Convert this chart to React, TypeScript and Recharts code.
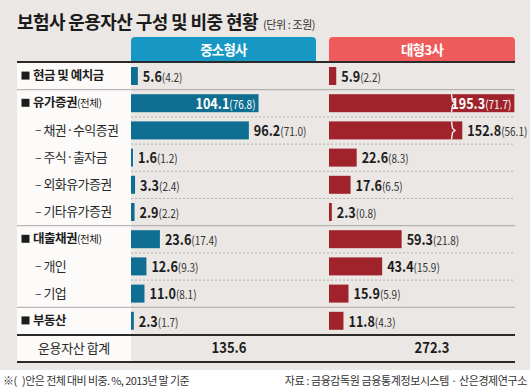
import { BarChart, Bar, XAxis, YAxis, LabelList } from 'recharts'

// 행 이름 / 종류 (main: ■ 항목, sub: – 하위 항목)
const rowNames = ['현금 및 예치금', '유가증권', '채권·수익증권', '주식·출자금', '외화유가증권', '기타유가증권', '대출채권', '개인', '기업', '부동산']
const rowKinds = ['main', 'main', 'sub', 'sub', 'sub', 'sub', 'main', 'sub', 'sub', 'main']
const rowIsWhole = [false, true, false, false, false, false, true, false, false, false]

// 중소형사 (조원, 비중 %)
const smallAmount = [5.6, 104.1, 96.2, 1.6, 3.3, 2.9, 23.6, 12.6, 11.0, 2.3]
const smallShare = [4.2, 76.8, 71.0, 1.2, 2.4, 2.2, 17.4, 9.3, 8.1, 1.7]
// 대형3사
const bigAmount = [5.9, 195.3, 152.8, 22.6, 17.6, 2.3, 59.3, 43.4, 15.9, 11.8]
const bigShare = [2.2, 71.7, 56.1, 8.3, 6.5, 0.8, 21.8, 15.9, 5.9, 4.3]

const totalLabel = '운용자산 합계'
const totals = [135.6, 272.3]
const groups = ['중소형사', '대형3사']

// axis break used on the long red bars: the 100 ~ 144 range is skipped
const BREAK_FROM = 100
const BREAK_TO = 144

const FONT = "'Noto Sans CJK KR', 'Noto Sans', sans-serif"
const TEAL = '#0e6f92'
const TEAL_HEAD = '#1697c4'
const RED = '#a0232b'
const RED_HEAD = '#ef5a5b'
const BG = '#ebe7e4'
const NARROW = 0.87 // numbers in the source use a condensed face

const PX_PER_UNIT = 1.225
const TOP = 62
const ROW_H = 27.2
const CHART_H = ROW_H * rowNames.length
const LEFT = 17
const LABEL_W = 114
const COL1_X = 131
const COL2_X = 329
const COL_W = 186
const RIGHT = 515
const SPILL = 14

const makeRows = (amount: number[], share: number[]) =>
  rowNames.map((name, i) => ({ name, amount: amount[i], share: share[i], kind: rowKinds[i], whole: rowIsWhole[i] }))

const smallRows = makeRows(smallAmount, smallShare)
const bigRows = makeRows(bigAmount, bigShare)

function shownWidth(w: number, v: number) {
  if (v <= BREAK_TO || v <= 0) return w
  return w - (w * (BREAK_TO - BREAK_FROM)) / v
}

function BrokenBar(props: any) {
  const { x, y, width, height, fill, payload } = props
  const v = payload.amount
  const w = shownWidth(width, v)
  const broken = v > BREAK_TO
  const bx = x + (width * BREAK_FROM) / v
  return (
    <g>
      <rect x={x} y={y} width={w} height={height} fill={fill} />
      {broken && (
        <polyline
          points={`${bx},${y} ${bx + 1},${y + height * 0.38} ${bx + 3.5},${y + height * 0.5} ${bx + 1},${y + height * 0.62} ${bx},${y + height}`}
          fill="none"
          stroke="#f3eeee"
          strokeWidth={1.4}
        />
      )}
    </g>
  )
}

function valueLabel(rows: typeof smallRows) {
  const max = Math.max(...rows.map(r => r.amount))
  return (props: any) => {
    const vb = props.viewBox || props
    const x = props.x ?? vb.x
    const y = props.y ?? vb.y
    const width = props.width ?? vb.width
    const height = props.height ?? vb.height
    const r = rows[props.index] ?? rows.find(d => d.amount === props.value)
    if (!r) return null
    const end = x + shownWidth(width, r.amount)
    const inside = r.amount === max
    const tx = inside ? end - 3 : end + 5
    return (
      <text
        transform={`translate(${tx},${y + height / 2}) scale(${NARROW},1)`}
        dy="0.36em"
        textAnchor={inside ? 'end' : 'start'}
        fontFamily={FONT}
      >
        <tspan fontSize={14.5} fontWeight={700} fill={inside ? '#fff' : '#1d1d1d'}>{r.amount.toFixed(1)}</tspan>
        <tspan fontSize={11.5} fill={inside ? '#fff' : '#333'}>({r.share.toFixed(1)})</tspan>
      </text>
    )
  }
}

function RowTick(props: any) {
  const { y, payload } = props
  const r = smallRows.find(d => d.name === payload.value)
  if (!r) return null
  if (r.kind === 'main') {
    return (
      <g>
        <rect x={4.5} y={y - 4} width={8} height={8} fill="#1d1d1d" />
        <text x={16} y={y} dy="0.36em" fontFamily={FONT} fontSize={12.5} fontWeight={700} fill="#1d1d1d" letterSpacing={-0.5} style={{ whiteSpace: 'pre' }}>
          {r.name}
          {r.whole && <tspan fontSize={10.5} fontWeight={400}>(전체)</tspan>}
        </text>
      </g>
    )
  }
  return (
    <g>
      <text x={18} y={y} dy="0.36em" fontFamily={FONT} fontSize={12} fill="#333">–</text>
      <text x={26.5} y={y} dy="0.36em" fontFamily={FONT} fontSize={13} fill="#2a2a2a" letterSpacing={-0.6}>{r.name}</text>
    </g>
  )
}

const boundary = (i: number) => TOP + ROW_H * i
const solidAfter = [1, 6, 9]
const dashedAfter = [2, 3, 4, 5, 7, 8]

function TotalText({ x, value }: { x: number; value: number }) {
  return (
    <text transform={`translate(${x},${boundary(10) + 14}) scale(${NARROW},1)`} dy="0.36em" textAnchor="middle" fontSize={15} fontWeight={700} fill="#1d1d1d">
      {value.toFixed(1)}
    </text>
  )
}

export default function App() {
  return (
    <div style={{ position: 'absolute', left: 0, top: 0, width: 530, height: 387, background: '#fff', fontFamily: FONT, overflow: 'hidden' }}>
      <svg width={530} height={387} style={{ position: 'absolute', left: 0, top: 0 }}>
        <rect x={0} y={0} width={530} height={370} fill={BG} />
        <text x={LEFT} y={29} fontSize={18} fontWeight={700} fill="#1a1a1a" letterSpacing={-0.6}>
          보험사 운용자산 구성 및 비중 현황
          <tspan fontSize={11} fontWeight={400} fill="#333" dx={5} letterSpacing={-0.4}>(단위 : 조원)</tspan>
        </text>
        {/* column heads */}
        <path d={`M${COL1_X},62 V41 Q${COL1_X},37 ${COL1_X + 4},37 H${COL1_X + COL_W - 5} Q${COL1_X + COL_W - 1},37 ${COL1_X + COL_W - 1},41 V62 Z`} fill={TEAL_HEAD} />
        <path d={`M${COL2_X},62 V41 Q${COL2_X},37 ${COL2_X + 4},37 H${RIGHT - 4} Q${RIGHT},37 ${RIGHT},41 V62 Z`} fill={RED_HEAD} />
        <text x={COL1_X + (COL_W - 1) / 2} y={50} dy="0.36em" textAnchor="middle" fontSize={13.5} fontWeight={700} fill="#fff" letterSpacing={-0.8}>{groups[0]}</text>
        <text x={(COL2_X + RIGHT) / 2} y={50} dy="0.36em" textAnchor="middle" fontSize={13.5} fontWeight={700} fill="#fff" letterSpacing={-0.8}>{groups[1]}</text>
        {/* label column */}
        <rect x={LEFT} y={TOP} width={LABEL_W} height={boundary(10) + 27 - TOP} fill="#fcfbfa" />
        {solidAfter.map(i => (
          <line key={'s' + i} x1={LEFT} x2={RIGHT} y1={boundary(i) + 0.5} y2={boundary(i) + 0.5} stroke="#a8a6a4" strokeWidth={1} />
        ))}
        {dashedAfter.map(i => (
          <line key={'d' + i} x1={COL1_X} x2={RIGHT} y1={boundary(i) + 0.5} y2={boundary(i) + 0.5} stroke="#b4b1ae" strokeWidth={1} strokeDasharray="2 2" />
        ))}
        <rect x={LEFT} y={61} width={RIGHT - LEFT} height={2} fill="#2a2a2a" />
        <rect x={LEFT} y={boundary(10)} width={RIGHT - LEFT} height={2} fill="#2a2a2a" />
        <rect x={LEFT} y={boundary(10) + 27} width={RIGHT - LEFT} height={2} fill="#2a2a2a" />
        {/* totals row */}
        <text x={LEFT + LABEL_W / 2} y={boundary(10) + 14} dy="0.36em" textAnchor="middle" fontSize={13} fill="#2a2a2a" letterSpacing={-0.4}>{totalLabel}</text>
        <TotalText x={229} value={totals[0]} />
        <TotalText x={432} value={totals[1]} />
        {/* footer */}
        <text x={3} y={381} dy="0.36em" fontSize={11} fill="#333" letterSpacing={-0.6} style={{ whiteSpace: 'pre' }}>{'※(   )안은 전체 대비 비중. %, 2013년 말 기준'}</text>
        <text x={527} y={381} dy="0.36em" textAnchor="end" fontSize={11} fill="#333" letterSpacing={-0.4} style={{ whiteSpace: 'pre' }}>자료 : 금융감독원 금융통계정보시스템 · 산은경제연구소</text>
      </svg>

      <div style={{ position: 'absolute', left: LEFT, top: TOP }}>
        <BarChart width={LABEL_W + COL_W} height={CHART_H} data={smallRows} layout="vertical" margin={{ top: 0, right: 0, bottom: 0, left: 0 }}>
          <XAxis type="number" hide domain={[0, COL_W / PX_PER_UNIT]} allowDataOverflow />
          <YAxis type="category" dataKey="name" width={LABEL_W} axisLine={false} tickLine={false} tick={<RowTick />} interval={0} />
          <Bar dataKey="amount" fill={TEAL} barSize={18} shape={<BrokenBar />} isAnimationActive={false}>
            <LabelList dataKey="amount" content={valueLabel(smallRows)} />
          </Bar>
        </BarChart>
      </div>

      <div style={{ position: 'absolute', left: COL2_X, top: TOP }}>
        <BarChart width={COL_W + SPILL} height={CHART_H} data={bigRows} layout="vertical" margin={{ top: 0, right: SPILL, bottom: 0, left: 0 }}>
          <XAxis type="number" hide domain={[0, COL_W / PX_PER_UNIT]} allowDataOverflow />
          <YAxis type="category" dataKey="name" hide />
          <Bar dataKey="amount" fill={RED} barSize={18} shape={<BrokenBar />} isAnimationActive={false}>
            <LabelList dataKey="amount" content={valueLabel(bigRows)} />
          </Bar>
        </BarChart>
      </div>
    </div>
  )
}
